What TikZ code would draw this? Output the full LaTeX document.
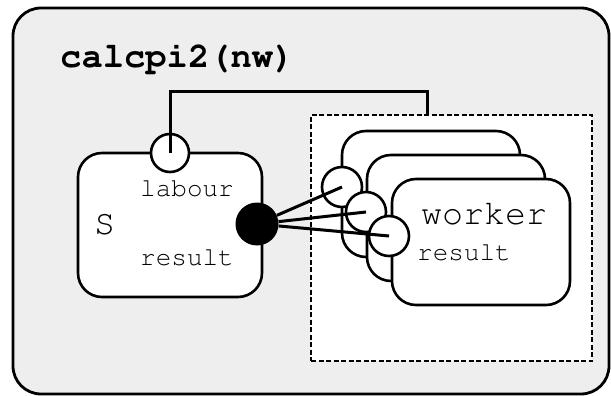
\documentclass[tikz,border=0pt]{standalone}
\usepackage[T1]{fontenc}
\definecolor{panel}{RGB}{238,238,238}
\newcommand\cour{\fontencoding{T1}\fontfamily{pcr}\selectfont}
\tikzset{
  frame/.style={draw, line width=2.8pt, fill=panel, rounded corners=28pt},
  proc/.style={draw, line width=2.6pt, fill=white, rounded corners=24pt, inner sep=0pt},
  group/.style={draw, line width=1.4pt, dash pattern=on 5pt off 2.5pt, fill=white, inner sep=0pt},
  port/.style={draw, circle, line width=2.6pt, fill=white, minimum size=40pt, inner sep=0pt},
  bigport/.style={circle, fill=black, minimum size=43pt, inner sep=0pt},
  wire/.style={line width=3pt},
  lbl/.style={anchor=base west, inner sep=0pt, font=\cour\fontsize{26}{30}\selectfont},
  big/.style={anchor=base west, inner sep=0pt, font=\cour\fontsize{35}{40}\selectfont},
}
\begin{document}
\begin{tikzpicture}[x=1pt, y=-1pt]
\useasboundingbox (0,0) rectangle (611,396);
% outer process frame
\node[frame, minimum width=596pt, minimum height=386pt] (outer) at (311,201) {};
\node[big, font=\cour\bfseries\fontsize{35.5}{40}\selectfont] (title) at (60,67) {calcpi2(nw)};
% replicated worker group
\node[group, minimum width=281pt, minimum height=246pt] (grp) at (451.5,238) {};
\node[proc, minimum width=178pt, minimum height=126pt] (w1) at (431,194) {};
\node[proc, minimum width=178pt, minimum height=126pt] (w2) at (456,218) {};
\node[proc, minimum width=178pt, minimum height=126pt] (w3) at (481,242) {};
\node[port] (p1) at (342,187) {};
\node[port] (p2) at (366,212) {};
\node[port] (p3) at (389,236) {};
\node[big] (wname) at (421,224) {worker};
\node[lbl] (wres) at (417,260) {result};
% the S process
\node[proc, minimum width=184pt, minimum height=144pt] (S) at (170,225) {};
\node[port, minimum size=38pt] (lab) at (170,153) {};
\node[big] (sname) at (94,234) {S};
\node[lbl] (slab) at (140,196) {labour};
\node[lbl] (sres) at (140,265) {result};
\node[bigport] (dot) at (257,224) {};
% connectors
\coordinate (bend) at (427,92);
\coordinate (tap) at (427,115);
\draw[wire] (lab.center) |- (bend) -- (tap);
\draw[wire] (dot) -- (p1.center);
\draw[wire] (dot) -- (p2.center);
\draw[wire] (dot) -- (p3.center);
\end{tikzpicture}
\end{document}
